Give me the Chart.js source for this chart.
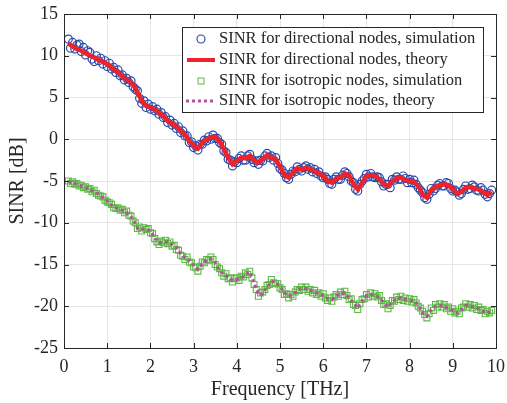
<!DOCTYPE html>
<html>
<head>
<meta charset="utf-8">
<script src="https://cdn.jsdelivr.net/npm/chart.js@4.4.0/dist/chart.umd.min.js"></script>
<style>
  html, body { margin: 0; padding: 0; background: #fff; }
  #wrap { width: 507px; height: 403px; }
</style>
</head>
<body>
<div id="wrap"><canvas id="myChart" width="507" height="403"></canvas></div>
<script>
// theory curves, 0.1 THz grid
const freq = [0.1,0.2,0.3,0.4,0.5,0.6,0.7,0.8,0.9,1.0,
  1.1,1.2,1.3,1.4,1.5,1.6,1.7,1.8,1.9,2.0,
  2.1,2.2,2.3,2.4,2.5,2.6,2.7,2.8,2.9,3.0,
  3.1,3.2,3.3,3.4,3.5,3.6,3.7,3.8,3.9,4.0,
  4.1,4.2,4.3,4.4,4.5,4.6,4.7,4.8,4.9,5.0,
  5.1,5.2,5.3,5.4,5.5,5.6,5.7,5.8,5.9,6.0,
  6.1,6.2,6.3,6.4,6.5,6.6,6.7,6.8,6.9,7.0,
  7.1,7.2,7.3,7.4,7.5,7.6,7.7,7.8,7.9,8.0,
  8.1,8.2,8.3,8.4,8.5,8.6,8.7,8.8,8.9,9.0,
  9.1,9.2,9.3,9.4,9.5,9.6,9.7,9.8,9.9];

const dirTheory = [11.5,11.1,10.8,10.6,10.3,10.0,9.8,9.5,9.3,9.0,
  8.6,8.2,7.8,7.3,7.0,6.6,5.6,4.6,4.0,3.8,
  3.6,3.2,2.8,2.2,1.9,1.5,1.0,0.6,-0.2,-0.8,
  -1.1,-0.4,0.0,0.2,0.3,-0.2,-1.2,-2.2,-3.0,-2.6,
  -2.2,-2.3,-2.0,-2.6,-2.8,-2.4,-1.9,-2.2,-2.4,-3.3,
  -4.3,-4.6,-4.0,-3.5,-3.6,-3.4,-3.6,-3.8,-4.1,-4.4,
  -5.0,-5.2,-4.7,-4.6,-4.1,-4.3,-5.4,-6.0,-5.2,-4.4,
  -4.3,-4.4,-4.8,-5.4,-5.6,-5.0,-4.7,-4.6,-4.9,-5.0,
  -5.1,-5.6,-6.6,-7.0,-6.1,-5.7,-5.5,-5.4,-5.5,-6.0,
  -6.5,-6.3,-5.8,-5.7,-5.9,-6.0,-6.3,-6.7,-6.3];

const isoTheory = [-5.1,-5.2,-5.4,-5.6,-5.8,-6.0,-6.3,-6.6,-7.0,-7.4,
  -7.9,-8.2,-8.4,-8.6,-9.0,-9.6,-10.6,-10.8,-10.7,-11.0,
  -11.8,-12.4,-12.3,-12.3,-12.6,-13.0,-13.7,-14.2,-14.5,-15.1,
  -15.6,-14.9,-14.5,-14.3,-14.8,-15.7,-16.2,-16.5,-16.9,-16.8,
  -16.6,-16.2,-15.9,-17.2,-18.6,-18.5,-17.7,-17.0,-17.1,-17.6,
  -18.4,-18.8,-18.6,-18.2,-17.8,-17.9,-18.1,-18.3,-18.5,-18.7,
  -19.1,-19.2,-18.8,-18.5,-18.4,-19.0,-19.6,-20.2,-19.4,-18.8,
  -18.6,-18.7,-18.9,-19.6,-20.1,-19.5,-19.1,-19.0,-19.2,-19.3,
  -19.4,-19.8,-20.8,-21.2,-20.4,-20.0,-19.9,-20.0,-20.3,-20.5,
  -20.8,-20.4,-19.9,-20.0,-20.1,-20.3,-20.6,-20.8,-20.6];

// simulation points, 0.05 THz grid
const freqSim = [0.10,0.15,0.20,0.25,0.30,0.35,0.40,0.45,0.50,0.55,0.60,0.65,0.70,0.75,0.80,0.85,0.90,0.95,1.00,
  1.05,1.10,1.15,1.20,1.25,1.30,1.35,1.40,1.45,1.50,1.55,1.60,1.65,1.70,1.75,1.80,1.85,1.90,1.95,2.00,
  2.05,2.10,2.15,2.20,2.25,2.30,2.35,2.40,2.45,2.50,2.55,2.60,2.65,2.70,2.75,2.80,2.85,2.90,2.95,3.00,
  3.05,3.10,3.15,3.20,3.25,3.30,3.35,3.40,3.45,3.50,3.55,3.60,3.65,3.70,3.75,3.80,3.85,3.90,3.95,4.00,
  4.05,4.10,4.15,4.20,4.25,4.30,4.35,4.40,4.45,4.50,4.55,4.60,4.65,4.70,4.75,4.80,4.85,4.90,4.95,5.00,
  5.05,5.10,5.15,5.20,5.25,5.30,5.35,5.40,5.45,5.50,5.55,5.60,5.65,5.70,5.75,5.80,5.85,5.90,5.95,6.00,
  6.05,6.10,6.15,6.20,6.25,6.30,6.35,6.40,6.45,6.50,6.55,6.60,6.65,6.70,6.75,6.80,6.85,6.90,6.95,7.00,
  7.05,7.10,7.15,7.20,7.25,7.30,7.35,7.40,7.45,7.50,7.55,7.60,7.65,7.70,7.75,7.80,7.85,7.90,7.95,8.00,
  8.05,8.10,8.15,8.20,8.25,8.30,8.35,8.40,8.45,8.50,8.55,8.60,8.65,8.70,8.75,8.80,8.85,8.90,8.95,9.00,
  9.05,9.10,9.15,9.20,9.25,9.30,9.35,9.40,9.45,9.50,9.55,9.60,9.65,9.70,9.75,9.80,9.85,9.90];

const dirSim = [12.0,10.9,11.6,10.8,11.3,11.4,10.5,11.0,10.1,10.6,10.4,9.6,9.3,10.0,9.4,9.7,9.0,9.4,8.7,
  9.1,8.4,8.6,8.0,8.3,7.6,7.7,7.1,7.3,6.8,7.0,6.3,6.0,5.8,4.9,4.3,4.6,3.8,4.2,3.6,
  3.9,3.4,3.6,3.0,3.2,2.6,2.7,2.0,2.3,1.7,1.9,1.3,1.5,0.8,1.0,0.4,0.4,-0.4,-0.3,-1.0,
  -0.8,-1.3,-0.6,-0.6,-0.1,-0.2,0.3,0.0,0.5,0.1,0.1,-0.4,-0.6,-1.4,-1.6,-2.4,-2.5,-3.2,-2.7,-2.8,
  -2.3,-2.0,-2.5,-2.5,-2.0,-1.8,-2.4,-2.8,-2.6,-3.0,-2.5,-2.6,-2.0,-1.7,-2.2,-2.0,-2.5,-2.2,-2.9,-3.5,
  -3.7,-4.1,-4.6,-4.8,-4.2,-3.8,-3.9,-3.3,-3.6,-3.8,-3.4,-3.2,-3.6,-3.4,-3.9,-3.6,-4.1,-3.9,-4.4,-4.6,
  -4.5,-4.8,-5.3,-5.4,-4.8,-4.5,-4.8,-4.8,-4.3,-3.9,-4.1,-4.5,-5.0,-5.2,-6.0,-6.2,-5.4,-5.0,-4.7,-4.2,
  -4.5,-4.1,-4.5,-4.6,-4.5,-4.6,-5.1,-5.6,-5.4,-5.4,-5.8,-4.8,-4.9,-4.5,-4.8,-4.8,-4.4,-4.7,-5.2,-4.8,
  -5.2,-4.9,-5.4,-5.8,-6.1,-6.4,-7.0,-7.2,-6.6,-5.9,-6.2,-5.9,-5.5,-5.3,-5.6,-5.6,-5.2,-5.3,-5.9,-6.2,
  -6.1,-6.3,-6.7,-6.5,-6.0,-5.6,-6.0,-5.9,-5.5,-5.7,-6.1,-6.2,-5.8,-6.1,-6.6,-6.9,-6.5,-6.1];

const isoSim = [-5.0,-5.3,-5.1,-5.4,-5.3,-5.6,-5.5,-5.8,-5.7,-6.0,-5.9,-6.3,-6.1,-6.5,-6.7,-6.8,-6.9,-7.3,-7.5,
  -7.6,-7.8,-8.2,-8.3,-8.2,-8.5,-8.4,-8.8,-8.6,-9.1,-9.2,-9.8,-10.0,-10.7,-10.5,-11.0,-10.6,-10.8,-10.7,-11.2,
  -11.3,-11.9,-12.3,-12.6,-12.2,-12.4,-12.1,-12.5,-12.3,-12.8,-12.7,-13.2,-13.3,-13.9,-14.0,-14.4,-14.1,-14.7,-14.8,-15.3,
  -15.4,-15.8,-15.2,-14.7,-14.8,-14.4,-14.5,-14.1,-14.4,-15.0,-15.3,-15.5,-16.0,-16.4,-16.1,-16.7,-16.6,-17.1,-16.7,-16.6,
  -16.9,-16.4,-16.5,-16.0,-16.2,-15.8,-16.6,-17.4,-18.0,-18.8,-18.4,-18.3,-18.0,-17.5,-17.4,-16.8,-17.2,-17.3,-17.3,-17.8,
  -18.0,-18.6,-18.5,-19.0,-18.6,-18.8,-18.3,-18.0,-18.1,-17.7,-18.0,-17.7,-18.2,-18.0,-18.4,-18.1,-18.6,-18.4,-18.8,-18.5,
  -19.0,-19.3,-19.0,-19.4,-18.9,-18.6,-18.8,-18.3,-18.6,-18.2,-18.7,-19.2,-19.1,-19.8,-19.9,-20.4,-19.7,-19.2,-19.1,-18.6,
  -18.9,-18.4,-18.8,-18.5,-18.9,-18.7,-19.3,-19.8,-19.7,-20.3,-19.9,-19.3,-19.4,-18.9,-19.2,-18.8,-19.3,-19.0,-19.4,-19.1,
  -19.5,-19.2,-19.6,-20.0,-20.2,-20.6,-21.0,-21.4,-20.9,-20.2,-20.5,-19.8,-20.1,-19.7,-20.1,-19.8,-20.3,-20.1,-20.6,-20.3,
  -20.8,-20.6,-20.9,-20.2,-20.1,-19.7,-20.1,-19.8,-20.2,-19.9,-20.4,-20.1,-20.5,-20.4,-20.9,-20.6,-20.8,-20.5];

const xTicks = [0,1,2,3,4,5,6,7,8,9,10];
const yTicks = [-25,-20,-15,-10,-5,0,5,10,15];
const legendLabels = [
  'SINR for directional nodes, simulation',
  'SINR for directional nodes, theory',
  'SINR for isotropic nodes, simulation',
  'SINR for isotropic nodes, theory'
];

const serif = "'Liberation Serif', 'Times New Roman', serif";
const axisCol = '#262626';
const blue = '#2a4aaa';
const red = '#ee2229';
const green = '#5db846';
const purple = '#b5509f';

function pts(xs, ys) {
  return ys.map((y, i) => ({ x: xs[i], y: y }));
}

// no label overflow padding, so the plot box sits where the layout padding says
function noPad(s) {
  s.paddingLeft = 0; s.paddingRight = 0; s.paddingTop = 0; s.paddingBottom = 0;
}

// axes box + inward ticks
const frame = {
  id: 'frame',
  afterDatasetsDraw(chart) {
    const ctx = chart.ctx;
    const a = chart.chartArea;
    const xs = chart.scales.x, ys = chart.scales.y;
    ctx.save();
    ctx.strokeStyle = axisCol;
    ctx.lineWidth = 1;
    ctx.beginPath();
    xTicks.forEach(v => {
      const px = Math.round(xs.getPixelForValue(v)) + 0.5;
      ctx.moveTo(px, a.bottom); ctx.lineTo(px, a.bottom - 5);
      ctx.moveTo(px, a.top); ctx.lineTo(px, a.top + 5);
    });
    yTicks.forEach(v => {
      const py = Math.round(ys.getPixelForValue(v)) + 0.5;
      ctx.moveTo(a.left, py); ctx.lineTo(a.left + 5, py);
      ctx.moveTo(a.right, py); ctx.lineTo(a.right - 5, py);
    });
    ctx.stroke();
    ctx.strokeRect(Math.round(a.left) + 0.5, Math.round(a.top) + 0.5,
      Math.round(a.right - a.left), Math.round(a.bottom - a.top));
    ctx.restore();
  }
};

const legendBox = {
  id: 'legendBox',
  afterDraw(chart) {
    const ctx = chart.ctx;
    const x0 = 182, y0 = 27, w = 301, h = 85;
    ctx.save();
    ctx.fillStyle = '#fff';
    ctx.fillRect(x0, y0, w, h);
    ctx.strokeStyle = axisCol;
    ctx.lineWidth = 1;
    ctx.strokeRect(x0 + 0.5, y0 + 0.5, w, h);
    const rowY = [39, 60, 81, 101];
    const mx = 201;
    ctx.strokeStyle = blue; ctx.lineWidth = 1.2;
    ctx.beginPath(); ctx.arc(mx, rowY[0], 4, 0, Math.PI * 2); ctx.stroke();
    ctx.strokeStyle = red; ctx.lineWidth = 4;
    ctx.beginPath(); ctx.moveTo(187, rowY[1]); ctx.lineTo(215, rowY[1]); ctx.stroke();
    ctx.strokeStyle = green; ctx.lineWidth = 1;
    ctx.strokeRect(mx - 3, rowY[2] - 3, 6, 6);
    ctx.strokeStyle = purple; ctx.lineWidth = 3; ctx.setLineDash([3, 3]);
    ctx.beginPath(); ctx.moveTo(186, rowY[3]); ctx.lineTo(216, rowY[3]); ctx.stroke();
    ctx.setLineDash([]);
    ctx.fillStyle = axisCol;
    ctx.font = '16.5px ' + serif;
    ctx.textBaseline = 'middle';
    legendLabels.forEach((t, i) => ctx.fillText(t, 219, rowY[i]));
    ctx.restore();
  }
};

new Chart(document.getElementById('myChart'), {
  type: 'scatter',
  data: {
    datasets: [
      { label: legendLabels[0], data: pts(freqSim, dirSim), order: 2,
        pointStyle: 'circle', pointRadius: 4, borderWidth: 1.2,
        borderColor: blue, backgroundColor: 'rgba(0,0,0,0)', showLine: false },
      { label: legendLabels[1], data: pts(freq, dirTheory), order: 1,
        showLine: true, pointRadius: 0, borderWidth: 4.5, borderColor: red, tension: 0 },
      { label: legendLabels[2], data: pts(freqSim, isoSim), order: 4,
        pointStyle: 'rect', pointRadius: 4.2, borderWidth: 1.1,
        borderColor: green, backgroundColor: 'rgba(0,0,0,0)', showLine: false },
      { label: legendLabels[3], data: pts(freq, isoTheory), order: 3,
        showLine: true, pointRadius: 0, borderWidth: 3, borderColor: purple,
        borderDash: [3, 3], tension: 0 }
    ]
  },
  options: {
    responsive: false,
    animation: false,
    events: [],
    layout: { autoPadding: false, padding: { top: 14, right: 11, left: 0, bottom: 0 } },
    plugins: { legend: { display: false }, tooltip: { enabled: false } },
    scales: {
      x: {
        type: 'linear', min: 0, max: 10,
        afterFit: s => { s.height = 55; noPad(s); },
        afterBuildTicks: s => { s.ticks = xTicks.map(v => ({ value: v })); },
        grid: { color: '#e6e6e6', drawTicks: false },
        border: { display: false },
        ticks: { color: axisCol, font: { family: serif, size: 18 }, padding: 8, maxRotation: 0 },
        title: { display: true, text: 'Frequency [THz]', color: axisCol,
          font: { family: serif, size: 20 }, padding: { top: 0, bottom: 1 } }
      },
      y: {
        type: 'linear', min: -25, max: 15,
        afterFit: s => { s.width = 64; noPad(s); },
        afterBuildTicks: s => { s.ticks = yTicks.map(v => ({ value: v })); },
        grid: { color: '#e6e6e6', drawTicks: false },
        border: { display: false },
        ticks: { color: axisCol, font: { family: serif, size: 18 }, padding: 6 },
        title: { display: true, text: 'SINR [dB]', color: axisCol,
          font: { family: serif, size: 20 }, padding: { top: 6, bottom: 0 } }
      }
    }
  },
  plugins: [frame, legendBox]
});
</script>
</body>
</html>
